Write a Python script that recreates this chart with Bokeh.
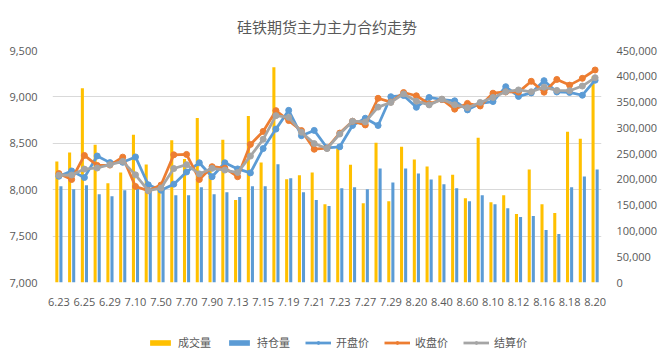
from bokeh.plotting import figure
from bokeh.layouts import column
from bokeh.models import (Range1d, LinearAxis, FixedTicker, SingleIntervalTicker,
                          NumeralTickFormatter, Legend, LegendItem, ColumnDataSource)
from bokeh.transform import dodge
from bokeh.embed import file_html
from bokeh.resources import INLINE

dates = ["6.23", "6.24", "6.25", "6.28", "6.29", "6.30", "7.10", "7.20", "7.50", "7.60",
         "7.70", "7.80", "7.90", "7.12", "7.13", "7.14", "7.15", "7.16", "7.19", "7.20",
         "7.21", "7.22", "7.23", "7.26", "7.27", "7.28", "7.29", "7.30", "8.20", "8.30",
         "8.40", "8.50", "8.60", "8.90", "8.10", "8.11", "8.12", "8.13", "8.16", "8.17",
         "8.18", "8.19", "8.20"]

volume = [234600, 252000, 377000, 267400, 192500, 213600, 286600, 229000, 188000, 276000,
          239500, 319300, 220000, 277000, 159800, 323100, 232800, 417300, 200100, 207800,
          213600, 151900, 260200, 228200, 153800, 271100, 157700, 263400, 238500, 225000,
          207700, 209000, 163500, 280800, 155800, 169200, 132700, 219200, 151900, 134600,
          292300, 278800, 400000]

open_interest = [186700, 181000, 188600, 171300, 167500, 179000, 181600, 179000, 180000, 169400,
                 169400, 184800, 171300, 175200, 165600, 186700, 186700, 229300, 202300, 175200,
                 159800, 148300, 182700, 184600, 180800, 221100, 194200, 221100, 211500, 200000,
                 190400, 182700, 157700, 169200, 151900, 144200, 126900, 128800, 101900, 94200,
                 184600, 205800, 219200]

open_price = [8145, 8202, 8131, 8363, 8292, 8295, 8353, 8053, 7995, 8060,
              8191, 8290, 8140, 8290, 8224, 8181, 8443, 8653, 8855, 8582,
              8639, 8452, 8462, 8692, 8770, 8692, 9002, 9015, 8888, 8994,
              8972, 8958, 8860, 8929, 8950, 9110, 9005, 9043, 9175, 9053,
              9048, 9018, 9180]

close_price = [8174, 8110, 8369, 8262, 8265, 8351, 8035, 7990, 8050, 8376,
               8380, 8110, 8248, 8232, 8140, 8488, 8628, 8852, 8745, 8637,
               8436, 8447, 8610, 8738, 8698, 8985, 8944, 9047, 9012, 8925,
               8972, 8868, 8930, 8902, 9040, 9053, 9052, 9168, 9051, 9188,
               9127, 9200, 9290]

settle_price = [8156, 8158, 8222, 8234, 8270, 8305, 8160, 7990, 8018, 8228,
                8270, 8170, 8230, 8212, 8185, 8362, 8543, 8798, 8780, 8620,
                8497, 8443, 8600, 8738, 8730, 8890, 8940, 9032, 8954, 8914,
                8976, 8915, 8884, 8940, 8994, 9055, 9075, 9055, 9105, 9070,
                9067, 9117, 9207]

legend_labels = ["成交量", "持仓量", "开盘价", "收盘价", "结算价"]
bar_colors = ["#FFC000", "#5B9BD5"]
line_colors = ["#5B9BD5", "#ED7D31", "#A5A5A5"]

x = list(range(len(dates)))
src = ColumnDataSource(dict(x=x, vol=volume, oi=open_interest, op=open_price,
                            cl=close_price, st=settle_price))

TXT = "#595959"
p = figure(width=668, height=320, output_backend="svg", toolbar_location=None,
           x_range=Range1d(-0.5, len(dates) - 0.5), y_range=Range1d(7000, 9500),
           min_border_left=52, min_border_right=67, min_border_top=48, min_border_bottom=38)
p.outline_line_color = None
p.extra_y_ranges = {"vol": Range1d(0, 450000)}

p.title.text = "硅铁期货主力主力合约走势"
p.title.align = "center"
p.title.text_font = "Noto Sans CJK SC"
p.title.text_font_size = "15px"
p.title.text_font_style = "normal"
p.title.text_color = TXT
p.title.standoff = 27
p.title.offset = 8

p.xgrid.visible = False
p.ygrid.grid_line_color = "#D9D9D9"
p.ygrid.grid_line_width = 1

p.xaxis.ticker = FixedTicker(ticks=x[::2])
p.xaxis.major_label_overrides = {i: dates[i] for i in x}

p.yaxis.ticker = SingleIntervalTicker(interval=500)
p.yaxis.formatter = NumeralTickFormatter(format="0,0")

raxis = LinearAxis(y_range_name="vol", ticker=SingleIntervalTicker(interval=50000),
                   formatter=NumeralTickFormatter(format="0,0"))
p.add_layout(raxis, "right")

for ax in p.xaxis + p.yaxis:
    ax.axis_line_color = None
    ax.major_tick_line_color = None
    ax.minor_tick_line_color = None
    ax.major_label_text_font = "Open Sans"
    ax.major_label_text_font_size = "11px"
    ax.major_label_text_color = TXT
    ax.major_label_standoff = 9

p.vbar(x=dodge("x", -0.16, range=p.x_range), top="vol", bottom=0, width=0.24,
       source=src, y_range_name="vol", fill_color=bar_colors[0], line_color=None)
p.vbar(x=dodge("x", 0.16, range=p.x_range), top="oi", bottom=0, width=0.24,
       source=src, y_range_name="vol", fill_color=bar_colors[1], line_color=None)

for col, colr in zip(["op", "cl", "st"], line_colors):
    p.line("x", col, source=src, line_color=colr, line_width=2.75)
    p.scatter("x", col, source=src, size=6, fill_color=colr, line_color=colr)

# legend strip: a separate small figure below the chart (its frame is aligned
# with the chart's frame by the column layout); its key renderers sit outside
# its visible range so that only the legend swatches show.
lg = figure(width=668, height=34, output_backend="svg", toolbar_location=None,
            x_range=Range1d(0, 1), y_range=Range1d(0, 1),
            x_axis_type=None, y_axis_type=None, min_border=0)
lg.outline_line_color = None
lg.grid.visible = False
key_src = ColumnDataSource(dict(x=[-5.0, -6.0], y=[-5.0, -6.0]))
items = []
for lab, colr in zip(legend_labels[:2], bar_colors):
    r = lg.vbar(x="x", top="y", bottom=-4.0, width=0.1, source=key_src,
                fill_color=colr, line_color=None)
    items.append(LegendItem(label=lab, renderers=[r]))
for lab, colr in zip(legend_labels[2:], line_colors):
    rl = lg.line("x", "y", source=key_src, line_color=colr, line_width=2.75)
    rs = lg.scatter("x", "y", source=key_src, size=6, fill_color=colr, line_color=colr)
    items.append(LegendItem(label=lab, renderers=[rl, rs]))

legend = Legend(items=items, orientation="horizontal", location=(95, 4))
legend.padding = 0
legend.margin = 0
legend.border_line_color = None
legend.background_fill_alpha = 0
legend.glyph_width = 26
legend.glyph_height = 7
legend.label_standoff = 5
legend.spacing = 15
legend.label_text_font = "Noto Sans CJK SC"
legend.label_text_font_size = "11px"
legend.label_text_color = TXT
lg.add_layout(legend)

layout = column(p, lg, spacing=0)
open("out.html", "w").write(file_html(layout, INLINE))
